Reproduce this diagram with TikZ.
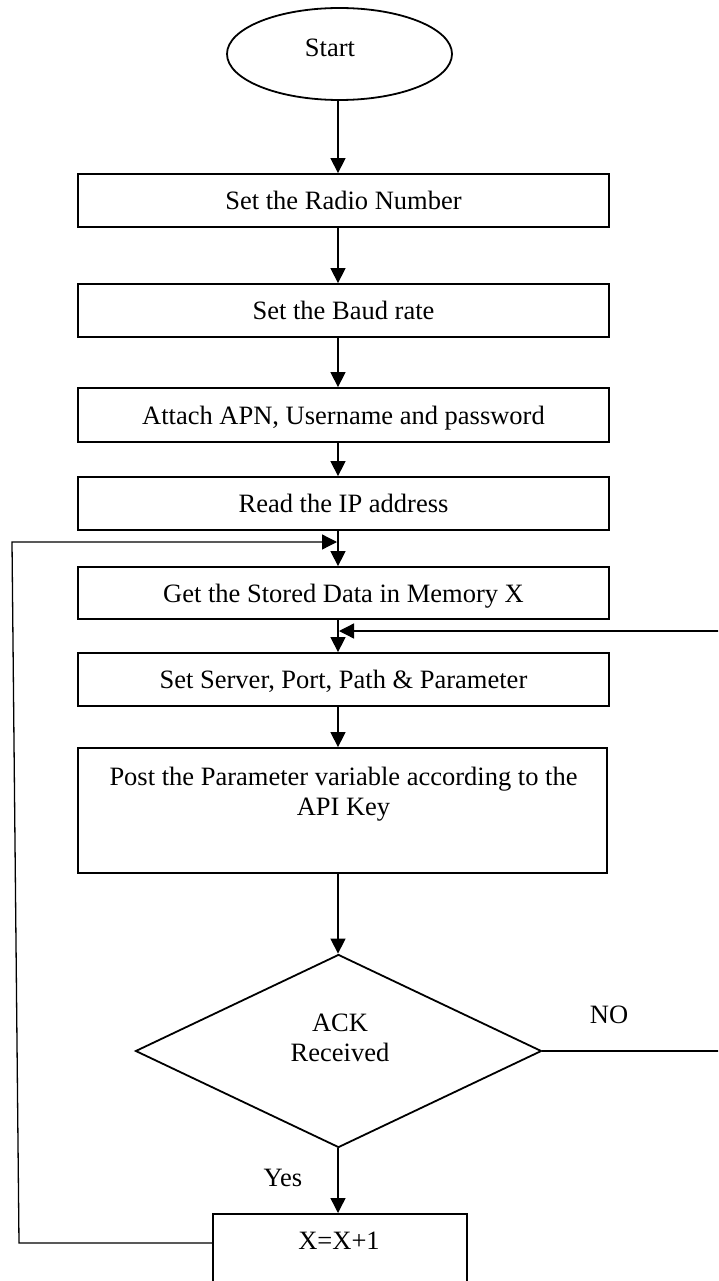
\documentclass[tikz,border=0pt]{standalone}
\usepackage{fontspec}
\setmainfont{Liberation Serif}
\usetikzlibrary{shapes.geometric,arrows.meta}
\begin{document}
\begin{tikzpicture}[x=1pt,y=-1pt,
  every node/.style={font=\fontsize{26.5}{30}\selectfont},
  procbox/.style={draw, line width=1.8pt, rectangle, minimum width=531pt,
                  inner sep=0pt, text height=18pt, text depth=0pt},
  label text/.style={inner sep=0pt},
  tip/.style={-{Triangle[length=15pt,width=15pt]}},
  flow/.style={line width=1.4pt, tip},
  backline/.style={line width=1.3pt},
]
\useasboundingbox (0,0) rectangle (718,1281);
\clip (0,0) rectangle (718,1281);

% main axis of the flow
\coordinate (axis) at (338,0);

% terminal
\node[ellipse, draw, line width=1.8pt, minimum width=225pt, minimum height=92pt, inner sep=0pt] (start) at (339.5,54) {};
\node[label text, anchor=base] (starttext) at (330,57) {Start};

% process steps
\node[procbox, minimum height=53pt] (b1) at (343.5,200.5) {Set the Radio Number};
\node[procbox, minimum height=53pt] (b2) at (343.5,310.5) {Set the Baud rate};
\node[procbox, minimum height=54pt] (b3) at (343.5,415) {Attach APN, Username and password};
\node[procbox, minimum height=53pt] (b4) at (343.5,503.5) {Read the IP address};
\node[procbox, minimum height=52pt] (b5) at (343.5,593) {Get the Stored Data in Memory X};
\node[procbox, minimum height=53pt] (b6) at (343.5,679.5) {Set Server, Port, Path \& Parameter};
\node[procbox, minimum width=529pt, minimum height=125pt] (b7) at (342.5,810.5) {};
\node[label text, align=center, anchor=north] (b7text) at (343.5,767)
  {Post the Parameter variable according to the\\API Key};

% decision
\node[diamond, draw, line width=1.8pt, minimum width=406pt, minimum height=193pt, inner sep=0pt] (d) at (338.5,1051) {};
\node[label text, align=center, anchor=north] (dtext) at (340,1013.5) {ACK\\Received};
\node[label text, anchor=base] (nolab) at (609,1023) {NO};
\node[label text, anchor=base] (yeslab) at (283,1186) {Yes};

% counter update (runs past the lower edge)
\node[draw, line width=1.8pt, minimum width=254pt, minimum height=100pt, inner sep=0pt, anchor=north] (xbox) at (340,1213) {};
\node[label text, anchor=base] (xtext) at (339,1249) {X=X+1};

% straight flow
\draw[flow] (axis |- start.south) -- (axis |- b1.north);
\draw[flow] (axis |- b1.south) -- (axis |- b2.north);
\draw[flow] (axis |- b2.south) -- (axis |- b3.north);
\draw[flow] (axis |- b3.south) -- (axis |- b4.north);
\draw[flow] (axis |- b4.south) -- (axis |- b5.north);
\draw[flow] (axis |- b5.south) -- (axis |- b6.north);
\draw[flow] (axis |- b6.south) -- (axis |- b7.north);
\draw[flow] (axis |- b7.south) -- (axis |- d.north);
\draw[flow] (axis |- d.south) -- (axis |- xbox.north);

% Yes branch: back to reading the next memory slot
\coordinate (lb) at (19,1243);
\coordinate (lt) at (12,542);
\coordinate (m1) at (337,542);
\draw[backline, tip] (lb -| xbox.west) -- (lb) -- (lt) -- (m1);

% NO branch: post again
\coordinate (rb) at (726,1051);
\coordinate (rt) at (726,631);
\coordinate (m2) at (339,631);
\draw[backline, tip] (d.east) -- (rb) -- (rt) -- (m2);
\end{tikzpicture}
\end{document}
